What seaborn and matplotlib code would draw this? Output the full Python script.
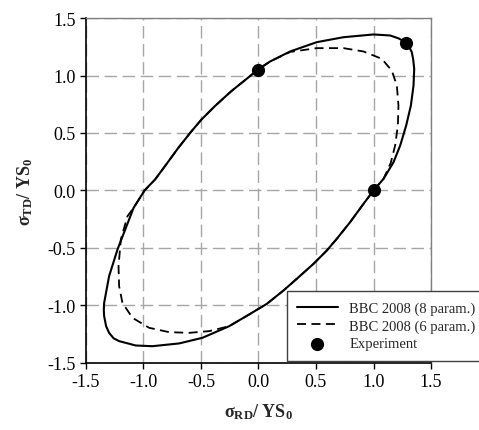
import numpy as np
import pandas as pd
import matplotlib
matplotlib.use('Agg')
import matplotlib.pyplot as plt
import seaborn as sns
from matplotlib.ticker import FormatStrFormatter

# BBC 2008 yield locus, 8 parameters (counter-clockwise)
s8_x = [1.0, 1.087, 1.174, 1.232, 1.284, 1.325, 1.348, 1.354, 1.345, 1.333, 1.31, 1.275, 1.22,
        1.145, 1.0, 0.739, 0.507, 0.275, 0.101, 0.0, -0.092, -0.236, -0.38, -0.496, -0.582,
        -0.697, -0.813, -0.899, -0.991, -1.086, -1.125, -1.226, -1.299, -1.342, -1.345,
        -1.342, -1.325, -1.299, -1.26, -1.212, -1.067, -0.922, -0.69, -0.487, -0.255,
        -0.081, 0.072, 0.217, 0.333, 0.478, 0.594, 0.681, 0.797, 0.913, 1.0]
s8_y = [0.0, 0.101, 0.246, 0.391, 0.565, 0.739, 0.913, 1.058, 1.14, 1.203, 1.25, 1.29, 1.322,
        1.348, 1.357, 1.333, 1.29, 1.209, 1.122, 1.055, 0.98, 0.864, 0.733, 0.617, 0.516,
        0.371, 0.212, 0.096, 0.0, -0.151, -0.252, -0.513, -0.745, -0.977, -1.04,
        -1.093, -1.18, -1.238, -1.285, -1.31, -1.348, -1.354, -1.33, -1.281, -1.18,
        -1.078, -0.986, -0.87, -0.768, -0.638, -0.522, -0.42, -0.275, -0.116, 0.0]

# BBC 2008 yield locus, 6 parameters
s6_x = [1.0, 1.087, 1.15, 1.188, 1.212, 1.217, 1.203, 1.159, 1.072, 0.913, 0.739, 0.507,
        0.275, 0.101, 0.0, -0.092, -0.236, -0.38, -0.496, -0.582, -0.697, -0.813, -0.899,
        -0.991, -1.086, -1.139, -1.197, -1.217, -1.212, -1.183, -1.096, -0.951, -0.777,
        -0.603, -0.429, -0.255, -0.081, 0.072, 0.217, 0.333, 0.478, 0.594, 0.681, 0.797,
        0.913, 1.0]
s6_y = [0.0, 0.101, 0.24, 0.391, 0.565, 0.739, 0.913, 1.043, 1.145, 1.209, 1.238, 1.238,
        1.205, 1.122, 1.055, 0.98, 0.864, 0.733, 0.617, 0.516, 0.371, 0.212, 0.096,
        0.0, -0.151, -0.223, -0.426, -0.658, -0.832, -0.977, -1.107, -1.194, -1.232,
        -1.238, -1.223, -1.18, -1.078, -0.986, -0.87, -0.768, -0.638, -0.522, -0.42, -0.275,
        -0.116, 0.0]

# experimental points
exp_x = [0.0, 1.28, 1.0]
exp_y = [1.05, 1.28, 0.0]

sns.set_style('ticks')
plt.rcParams['font.family'] = ['Liberation Serif', 'DejaVu Serif']
plt.rcParams['mathtext.fontset'] = 'custom'
plt.rcParams['mathtext.rm'] = 'Liberation Serif'
plt.rcParams['mathtext.bf'] = 'Liberation Serif:bold'
plt.rcParams['mathtext.it'] = 'Liberation Serif:italic'
plt.rcParams['axes.unicode_minus'] = False

fig = plt.figure(figsize=(4.79, 4.31), dpi=100)
ax = fig.add_axes([0.1795, 0.1555, 0.7203, 0.8004])

sns.lineplot(x=s8_x, y=s8_y, sort=False, estimator=None, color='black', lw=1.5,
             ax=ax, label='BBC 2008 (8 param.)')
sns.lineplot(x=s6_x, y=s6_y, sort=False, estimator=None, color='black', lw=1.3,
             linestyle=(0, (5, 3)), ax=ax, label='BBC 2008 (6 param.)')
sns.scatterplot(x=exp_x, y=exp_y, color='black', s=90, edgecolor='black', linewidth=0,
                ax=ax, label='Experiment', zorder=5)

ax.set_xlim(-1.5, 1.5)
ax.set_ylim(-1.5, 1.5)
ax.set_xticks(np.arange(-1.5, 1.51, 0.5))
ax.set_yticks(np.arange(-1.5, 1.51, 0.5))
ax.xaxis.set_major_formatter(FormatStrFormatter('%.1f'))
ax.yaxis.set_major_formatter(FormatStrFormatter('%.1f'))
ax.tick_params(direction='out', length=4, width=1, labelsize=13, colors='black')

ax.grid(True, color='#a6a6a6', linestyle=(0, (9, 4)), lw=1)
ax.set_axisbelow(True)
for side in ['left', 'bottom']:
    ax.spines[side].set_color('black')
    ax.spines[side].set_linewidth(1.2)
for side in ['top', 'right']:
    ax.spines[side].set_visible(True)
    ax.spines[side].set_color('#808080')
    ax.spines[side].set_linewidth(1)

ax.set_xlabel(r'$\mathbf{\sigma_{RD}/\ YS_0}$', fontsize=13, labelpad=8)
ax.set_ylabel(r'$\mathbf{\sigma_{TD}/\ YS_0}$', fontsize=13, labelpad=9)

leg = ax.legend(loc='lower left', bbox_to_anchor=(0.582, 0.007), borderaxespad=0,
                fontsize=10.5, handlelength=2.8, labelspacing=0.3, frameon=True,
                fancybox=False, borderpad=0.7, handletextpad=0.8)
leg.get_frame().set_edgecolor('#404040')
leg.get_frame().set_linewidth(1)
leg.get_frame().set_alpha(1)

fig.savefig('out.png', dpi=100)
